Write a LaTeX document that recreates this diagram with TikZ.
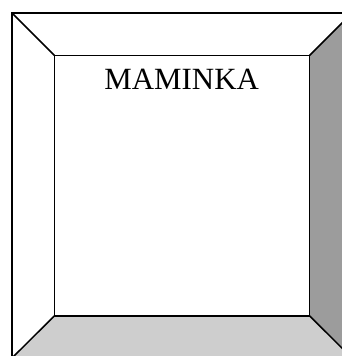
\documentclass[tikz,border=0pt]{standalone}
\usepackage{fontspec}
\setmainfont{Liberation Serif}
\definecolor{wallgray}{HTML}{9C9C9C}
\definecolor{floorgray}{HTML}{CECECE}
\tikzset{
  every picture/.style={line join=miter, line cap=butt},
  edge/.style={line width=1.5bp},
  title/.style={font=\fontsize{31}{34}\selectfont, anchor=base, inner sep=0pt},
}

\begin{document}
\begin{tikzpicture}[x=1bp,y=-1bp]
\useasboundingbox (0,0) rectangle (342,356);
\clip (0,0) rectangle (342,356);
% outer frame
\coordinate (o1) at (12,13);
\coordinate (o2) at (352,13);
\coordinate (o3) at (352,358);
\coordinate (o4) at (12,358);
% back wall
\coordinate (i1) at (54.3,55.3);
\coordinate (i2) at (309.7,55.3);
\coordinate (i3) at (309.7,316);
\coordinate (i4) at (54.3,316);
\fill[wallgray] (i2)--(o2)--(o3)--(i3)--cycle;
\fill[floorgray] (i4)--(i3)--(o3)--(o4)--cycle;
\draw[edge] (o1) rectangle (o3);
\draw[edge] (i1) rectangle (i3);
\draw[edge] (o1)--(i1) (o2)--(i2) (o3)--(i3) (o4)--(i4);
\node[title] (label) at (181.7,89.3) {MAMINKA};
\end{tikzpicture}
\end{document}
